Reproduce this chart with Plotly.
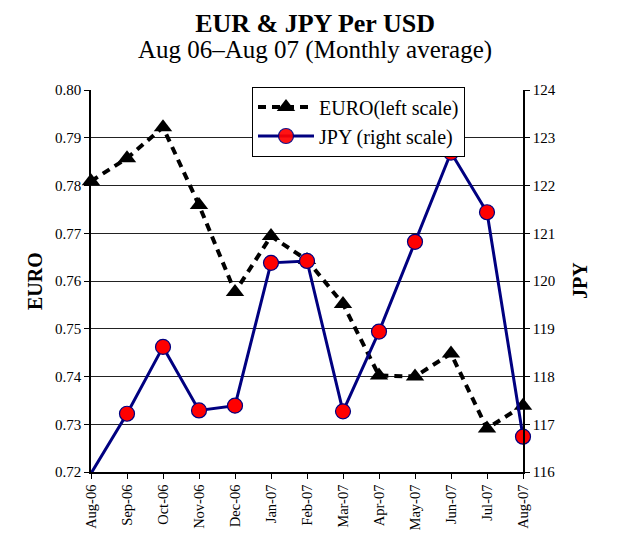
import plotly.graph_objects as go

months = ["Aug-06", "Sep-06", "Oct-06", "Nov-06", "Dec-06", "Jan-07", "Feb-07",
          "Mar-07", "Apr-07", "May-07", "Jun-07", "Jul-07", "Aug-07"]
euro = [0.7809, 0.7857, 0.7922, 0.7759, 0.7577, 0.7694, 0.7644,
        0.7552, 0.7402, 0.7400, 0.7448, 0.7291, 0.7339]
jpy = [115.97, 117.22, 118.62, 117.29, 117.39, 120.38, 120.42,
       117.27, 118.94, 120.82, 122.69, 121.44, 116.74]

euro_ticks = [0.72, 0.73, 0.74, 0.75, 0.76, 0.77, 0.78, 0.79, 0.80]
jpy_ticks = [116, 117, 118, 119, 120, 121, 122, 123, 124]

title = "EUR &amp; JPY Per USD"
subtitle = "Aug 06\u2013Aug 07 (Monthly average)"

FONT = "Liberation Serif"
x_idx = list(range(len(months)))

# page body has 8px margin in the browser; figure sized to fit the window
OFF = 8
W, H = 626 - OFF, 538 - OFF
L, R, T, B = 91 - OFF, 103, 90 - OFF, 66
pw, ph = W - L - R, H - T - B

fig = go.Figure()
fig.add_trace(go.Scatter(
    x=x_idx, y=euro, name="EURO(left scale)", mode="lines+markers",
    line=dict(color="black", width=4, dash="8px,6px"),
    marker=dict(symbol="triangle-up", size=16, color="black"),
    cliponaxis=False, yaxis="y"))
jpy_opacity = [0 if v < jpy_ticks[0] else 1 for v in jpy]
fig.add_trace(go.Scatter(
    x=x_idx, y=jpy, name="JPY (right scale)", mode="lines+markers",
    line=dict(color="#000080", width=3),
    marker=dict(symbol="circle", size=15, color="red", opacity=jpy_opacity,
                line=dict(color="#000080", width=1.2)),
    cliponaxis=False, yaxis="y2"))


def px(x):
    return (x - OFF - L) / pw


def py(y):
    return (H - (y - OFF) - B) / ph


fig.update_layout(
    width=W, height=H,
    margin=dict(l=L, r=R, t=T, b=B, autoexpand=False),
    paper_bgcolor="white", plot_bgcolor="white",
    font=dict(family=FONT, color="black", size=15),
    showlegend=True,
    legend=dict(x=px(252), y=py(86.5), xanchor="left", yanchor="top",
                bgcolor="white", bordercolor="black", borderwidth=1,
                font=dict(family=FONT, size=20, color="black"),
                itemwidth=56, tracegroupgap=0),
    xaxis=dict(tickmode="array", tickvals=x_idx, ticktext=months,
               range=[0, len(months) - 1], tickangle=-90,
               tickfont=dict(family=FONT, size=14.5),
               ticks="outside", ticklen=5, tickcolor="black",
               showline=True, linecolor="black", linewidth=1.5,
               showgrid=False, zeroline=False),
    yaxis=dict(range=[euro_ticks[0], euro_ticks[-1]], tickvals=euro_ticks,
               tickformat=".2f", tickfont=dict(family=FONT, size=15),
               ticks="outside", ticklen=5, tickcolor="black",
               showline=True, linecolor="black", linewidth=1.5,
               showgrid=True, gridcolor="#222222", gridwidth=1,
               zeroline=False),
    yaxis2=dict(range=[jpy_ticks[0], jpy_ticks[-1]], tickvals=jpy_ticks,
                overlaying="y", side="right",
                tickfont=dict(family=FONT, size=15),
                ticks="outside", ticklen=5, tickcolor="black",
                showline=True, linecolor="black", linewidth=1.5,
                showgrid=False, zeroline=False),
    annotations=[
        dict(text=("<b><span style='font-size:26px'>" + title + "</span></b><br>"
                   "<span style='font-size:25px'>" + subtitle + "</span>"),
             x=px(315), y=py(8), yanchor="top", borderpad=0,
             font=dict(family=FONT, size=20)),
        dict(text="<b>EURO</b>", x=px(35), y=py(281), textangle=-90,
             yanchor="middle", font=dict(family=FONT, size=20)),
        dict(text="<b>JPY</b>", x=px(580), y=py(281), textangle=-90,
             yanchor="middle", font=dict(family=FONT, size=20)),
    ],
)
for a in fig.layout.annotations:
    a.xref = "paper"
    a.yref = "paper"
    a.xanchor = "center"
    a.showarrow = False

fig.write_html("out.html")
